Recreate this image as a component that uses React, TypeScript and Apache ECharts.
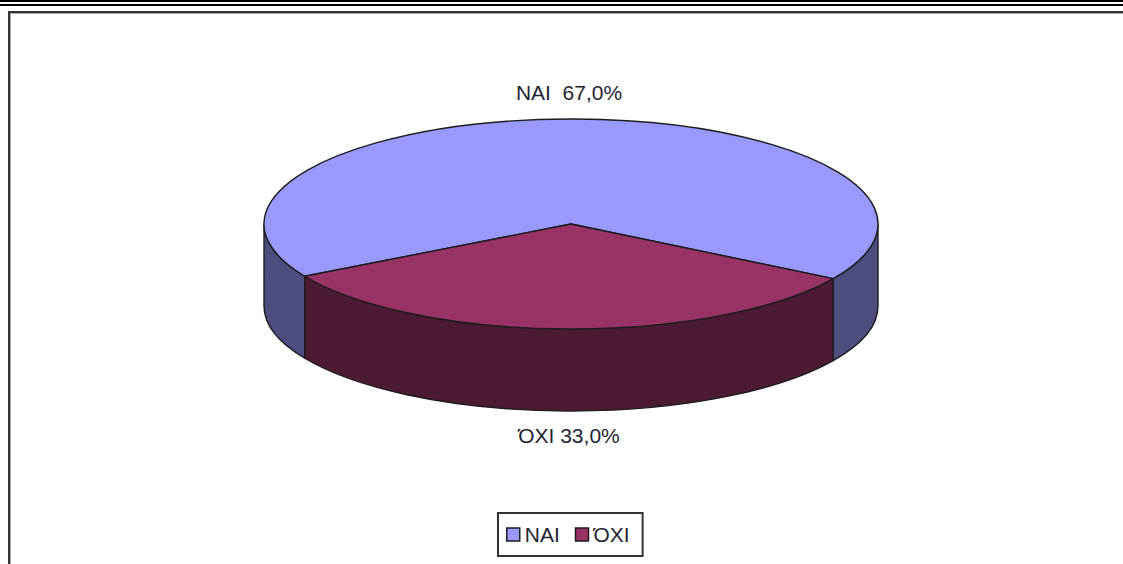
import React, { useEffect, useRef } from "react";
import * as echarts from "echarts";

const categories = ["ΝΑΙ", "ΌΧΙ"];
const values = [67, 33];
const labelPrefixes = ["ΝΑΙ  ", "ΌΧΙ "];
const topColors = ["#9999FF", "#993366"];
const sideColors = ["#4D4D80", "#4D1A33"];

const W = 1123;
const H = 564;
const CX = 571;
const CY = 224;
const RX = 307;
const RY = 105;
const DEPTH = 82;
const FRONT = 90.75;
const EDGE = "#1c1c1c";
const FONT = "'Liberation Sans', Arial, sans-serif";

const total = values.reduce((a, b) => a + b, 0);
const spanOf = (i: number) => (values[i] / total) * 360;
// second slice is centred on the front of the disc
const startOf = (i: number) => (i === 1 ? FRONT - spanOf(1) / 2 : FRONT + spanOf(1) / 2);

const pt = (deg: number, dy = 0) => {
  const t = (deg * Math.PI) / 180;
  return [CX + RX * Math.cos(t), CY + RY * Math.sin(t) + dy];
};

const arcTo = (deg0: number, deg1: number, dy = 0, back = false) => {
  const p = pt(back ? deg0 : deg1, dy);
  const large = deg1 - deg0 > 180 ? 1 : 0;
  return `A ${RX} ${RY} 0 ${large} ${back ? 0 : 1} ${p[0]} ${p[1]}`;
};

const topPath = (a0: number, a1: number) => {
  const s = pt(a0);
  return `M ${CX} ${CY} L ${s[0]} ${s[1]} ${arcTo(a0, a1)} Z`;
};

const wallPath = (a0: number, a1: number) => {
  const s = pt(a0);
  const e = pt(a1, DEPTH);
  return `M ${s[0]} ${s[1]} ${arcTo(a0, a1)} L ${e[0]} ${e[1]} ${arcTo(a0, a1, DEPTH, true)} Z`;
};

const visibleWalls = (a0: number, a1: number) => {
  const out: [number, number][] = [];
  for (const [lo, hi] of [[0, 180], [360, 540]]) {
    const s = Math.max(a0, lo);
    const e = Math.min(a1, hi);
    if (e > s) out.push([s, e]);
  }
  return out;
};

const sliceRender = (i: number) => () => {
  const a0 = startOf(i);
  const a1 = a0 + spanOf(i);
  const edge = { stroke: EDGE, lineWidth: 1.4, lineJoin: "round" };
  const walls = visibleWalls(a0, a1).map(([s, e]) => ({
    type: "path",
    shape: { pathData: wallPath(s, e) },
    style: { fill: sideColors[i], ...edge },
    silent: true,
  }));
  const pct = values[i].toFixed(1).replace(".", ",") + "%";
  return {
    type: "group",
    children: [
      ...walls,
      {
        type: "path",
        shape: { pathData: topPath(a0, a1) },
        style: { fill: topColors[i], ...edge },
        silent: true,
      },
      {
        type: "text",
        style: {
          x: i === 0 ? CX - 2 : CX - 2,
          y: i === 0 ? 92 : 435,
          text: labelPrefixes[i] + pct,
          fill: "#1f2430",
          font: `21px ${FONT}`,
          align: "center",
          verticalAlign: "middle",
        },
        silent: true,
      },
    ],
  };
};

const bar = (x: number, y: number, width: number, height: number, fill: string) => ({
  type: "rect",
  shape: { x, y, width, height },
  style: { fill },
  silent: true,
});

export default function App() {
  const ref = useRef<HTMLDivElement>(null);
  useEffect(() => {
    const chart = echarts.init(ref.current!, null, { renderer: "svg" });
    chart.setOption({
      animation: false,
      backgroundColor: "#ffffff",
      color: topColors,
      graphic: [
        bar(0, 0, W, 2, "#000000"),
        bar(0, 4, W, 2, "#000000"),
        bar(8, 11, W - 8, 2, "#333333"),
        bar(8, 13, W - 8, 1, "#aaaaaa"),
        bar(8, 11, 2, H - 11, "#333333"),
        bar(10, 13, 1, H - 13, "#aaaaaa"),
      ],
      legend: {
        left: 498,
        top: 513,
        orient: "horizontal",
        data: categories,
        icon: "rect",
        itemWidth: 13,
        itemHeight: 13,
        itemGap: 15,
        padding: [11, 13, 11, 8],
        borderColor: "#333333",
        borderWidth: 2,
        backgroundColor: "#ffffff",
        selectedMode: false,
        itemStyle: { borderColor: EDGE, borderWidth: 1.5 },
        textStyle: { fontFamily: FONT, fontSize: 21, color: "#1f2430", padding: [0, 0, 0, 0] },
      },
      series: categories.map((name, i) => ({
        type: "custom",
        name,
        coordinateSystem: "none",
        data: [[values[i]]],
        itemStyle: { color: topColors[i] },
        renderItem: sliceRender(i),
        silent: true,
      })),
    });
    return () => chart.dispose();
  }, []);
  return <div ref={ref} style={{ position: "fixed", left: 0, top: 0, width: W, height: H }} />;
}
